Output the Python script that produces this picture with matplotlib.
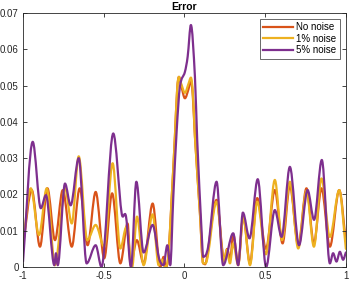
import matplotlib
matplotlib.use('Agg')
import matplotlib.pyplot as plt
from matplotlib.path import Path
from matplotlib.patches import PathPatch
from matplotlib.lines import Line2D

# values (extrema of each curve)
x_none = [-1.0, -0.946, -0.895, -0.849, -0.802, -0.754, -0.698, -0.649, -0.600, -0.550,
          -0.497, -0.448, -0.397, -0.352, -0.334, -0.295, -0.253, -0.197, -0.150, -0.129,
          -0.115, -0.100, -0.079, -0.059, -0.045, -0.034, -0.020, 0.003, 0.025, 0.040,
          0.052, 0.065, 0.096, 0.116, 0.135, 0.199, 0.246, 0.265, 0.283, 0.302,
          0.333, 0.364, 0.406, 0.451, 0.505, 0.560, 0.608, 0.653, 0.705, 0.756,
          0.802, 0.849, 0.901, 0.959, 1.0]
y_none = [0.006, 0.0212, 0.0056, 0.0217, 0.0074, 0.0212, 0.0056, 0.0217, 0.006, 0.0207,
          0.0024, 0.0203, 0.001, 0.012, 0.0005, 0.0074, 0.001, 0.0175, 0.0, 0.0028,
          0.0, 0.003, 0.019, 0.036, 0.049, 0.0524, 0.050, 0.0465, 0.049, 0.0515,
          0.047, 0.036, 0.0148, 0.001, 0.0015, 0.0185, 0.002, 0.005, 0.002, 0.009,
          0.001, 0.0139, 0.001, 0.019, 0.005, 0.0212, 0.0065, 0.0224, 0.006, 0.0217,
          0.0065, 0.0217, 0.0056, 0.0212, 0.007]

x_1pct = [-1.0, -0.952, -0.901, -0.853, -0.802, -0.740, -0.698, -0.655, -0.602, -0.550,
          -0.497, -0.445, -0.397, -0.360, -0.324, -0.294, -0.253, -0.197, -0.160, -0.139,
          -0.120, -0.100, -0.079, -0.059, -0.045, -0.034, -0.020, 0.003, 0.025, 0.040,
          0.052, 0.065, 0.096, 0.116, 0.130, 0.199, 0.246, 0.261, 0.282, 0.302,
          0.333, 0.364, 0.406, 0.451, 0.505, 0.560, 0.605, 0.653, 0.705, 0.756,
          0.802, 0.849, 0.901, 0.959, 1.0]
y_1pct = [0.0065, 0.0217, 0.0088, 0.0217, 0.0005, 0.0217, 0.012, 0.0305, 0.0074, 0.0116,
          0.0056, 0.0286, 0.0051, 0.011, 0.0, 0.0139, 0.0005, 0.0145, 0.0005, 0.002,
          0.0, 0.003, 0.019, 0.036, 0.049, 0.0524, 0.0505, 0.048, 0.0505, 0.0522,
          0.048, 0.036, 0.0148, 0.001, 0.001, 0.018, 0.0015, 0.0047, 0.001, 0.0065,
          0.0005, 0.0139, 0.0005, 0.018, 0.0035, 0.024, 0.0074, 0.0235, 0.0051, 0.021,
          0.0056, 0.0244, 0.0083, 0.0212, 0.005]

x_5pct = [-1.0, -0.940, -0.890, -0.858, -0.806, -0.796, -0.785, -0.740, -0.705, -0.655,
          -0.606, -0.550, -0.514, -0.441, -0.389, -0.362, -0.331, -0.298, -0.253, -0.197,
          -0.158, -0.130, -0.106, -0.088, -0.069, -0.048, -0.028, 0.003, 0.020, 0.040,
          0.065, 0.079, 0.106, 0.116, 0.147, 0.199, 0.240, 0.302, 0.333, 0.362,
          0.403, 0.454, 0.506, 0.560, 0.602, 0.653, 0.710, 0.763, 0.803, 0.851,
          0.901, 0.921, 0.942, 0.963, 0.983, 1.0]
y_5pct = [0.0015, 0.0345, 0.0162, 0.0198, 0.0005, 0.0038, 0.0005, 0.023, 0.017, 0.030,
          0.001, 0.006, 0.0, 0.0368, 0.0148, 0.0139, 0.0, 0.0235, 0.004, 0.0116,
          0.0025, 0.0005, 0.006, 0.0005, 0.0194, 0.0377, 0.0497, 0.0538, 0.058, 0.0667,
          0.0524, 0.035, 0.010, 0.0028, 0.0056, 0.0235, 0.0005, 0.0093, 0.0005, 0.015,
          0.0079, 0.0242, 0.0, 0.0157, 0.0083, 0.0276, 0.006, 0.0212, 0.013, 0.0295,
          0.001, 0.0038, 0.0015, 0.0042, 0.002, 0.004]

labels = ['No noise', '1% noise', '5% noise']
colors = ['#D95319', '#EDB120', '#7E2F8E']

xticks = [-1, -0.5, 0, 0.5, 1]
xticklabels = ['-1', '-0.5', '0', '0.5', '1']
yticks = [0, 0.01, 0.02, 0.03, 0.04, 0.05, 0.06, 0.07]
yticklabels = ['0', '0.01', '0.02', '0.03', '0.04', '0.05', '0.06', '0.07']


def smooth_path(xs, ys):
    # bezier path through the read points, flat tangent at peaks and troughs
    n = len(xs)
    m = []
    for i in range(n):
        if i == 0 or i == n - 1:
            j0, j1 = max(i - 1, 0), min(i + 1, n - 1)
            m.append((ys[j1] - ys[j0]) / (xs[j1] - xs[j0]))
        elif (ys[i] - ys[i - 1]) * (ys[i + 1] - ys[i]) <= 0:
            m.append(0.0)
        else:
            m.append((ys[i + 1] - ys[i - 1]) / (xs[i + 1] - xs[i - 1]))
    verts = [(xs[0], ys[0])]
    codes = [Path.MOVETO]
    for i in range(n - 1):
        d = (xs[i + 1] - xs[i]) / 3
        verts += [(xs[i] + d, ys[i] + m[i] * d),
                  (xs[i + 1] - d, ys[i + 1] - m[i + 1] * d),
                  (xs[i + 1], ys[i + 1])]
        codes += [Path.CURVE4] * 3
    return Path(verts, codes)


plt.rcParams['font.family'] = ['Liberation Sans', 'DejaVu Sans']
plt.rcParams['axes.unicode_minus'] = False

fig = plt.figure(figsize=(3.49, 2.83), dpi=100)
ax = fig.add_axes([0.066, 0.0565, 0.925, 0.8975])

handles = []
for xs, ys, lab, c in zip([x_none, x_1pct, x_5pct], [y_none, y_1pct, y_5pct], labels, colors):
    ax.add_patch(PathPatch(smooth_path(xs, ys), fill=False, edgecolor=c,
                           linewidth=1.6, capstyle='round', joinstyle='round'))
    handles.append(Line2D([], [], color=c, linewidth=1.6, label=lab))

ax.set_xlim(-1, 1)
ax.set_ylim(0, 0.07)
ax.set_xticks(xticks)
ax.set_xticklabels(xticklabels)
ax.set_yticks(yticks)
ax.set_yticklabels(yticklabels)
ax.tick_params(direction='in', length=3, width=0.6, labelsize=7, colors='#262626',
               top=True, right=True, pad=3)
for s in ax.spines.values():
    s.set_color('#262626')
    s.set_linewidth(0.6)
ax.set_title('Error', fontsize=7.5, fontweight='bold', pad=2)

leg = ax.legend(handles=handles, loc='upper right', fontsize=7, frameon=True,
                fancybox=False, borderaxespad=0.6, handlelength=3.0,
                handletextpad=0.4, labelspacing=0.15, borderpad=0.35)
leg.get_frame().set_edgecolor('#262626')
leg.get_frame().set_linewidth(0.6)

fig.savefig('out.png', dpi=100)
